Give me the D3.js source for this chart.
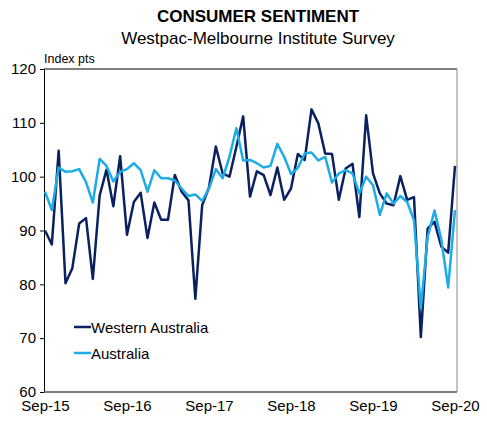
<!DOCTYPE html>
<html>
<head>
<meta charset="utf-8">
<script src="https://cdn.jsdelivr.net/npm/d3@7"></script>
<style>
  body { margin: 0; background: #fff; font-family: "Liberation Sans", Arial, sans-serif; }
</style>
</head>
<body>
<svg id="chart" width="487" height="426"></svg>
<script>
// monthly, Sep-15 .. Sep-20
const westernAustralia = [90, 87.4, 104.8, 80.2, 83, 91.3, 92.3, 81, 96.5, 101.3, 94.5, 103.8, 89.2, 95.3, 97, 88.6, 95.2, 92, 92,
  100.3, 97.2, 95.6, 77.3, 94.7, 98, 105.6, 100.6, 100, 105.5, 111.2, 96.3, 101, 100.3, 96.6, 101.7, 95.7, 97.8, 104.2, 103.1,
  112.5, 109.9, 104.3, 104.2, 95.7, 101.5, 102.4, 92.5, 111.4, 100.6, 96.9, 95, 94.7, 100.1, 95.7, 96.2, 70.2, 90.4, 91.6, 87, 85.9, 102];
const australia = [97.2, 93.8, 101.7, 100.9, 101, 101.4, 99, 95.2, 103.3, 102, 99.1, 100.9, 101.4, 102.5, 101.2, 97.2, 101.2, 99.7, 99.7,
  99.3, 97.8, 96.4, 96.7, 95.5, 97.8, 101.4, 99.7, 103.7, 109, 103, 103.1, 102.5, 101.7, 102, 106.1, 103.7, 100.5, 101.6, 104.3,
  104.5, 103, 103.7, 98.9, 100.6, 101.2, 100.6, 96.9, 100, 98.4, 92.9, 96.9, 95, 96.4, 95.3, 91.9, 75.5, 88.8, 93.7, 88.3, 79.4, 93.8];
const xTickIdx = [0, 12, 24, 36, 48, 60];
const xTickLabels = ['Sep-15', 'Sep-16', 'Sep-17', 'Sep-18', 'Sep-19', 'Sep-20'];
const yTicks = [60, 70, 80, 90, 100, 110, 120];
const seriesNames = ['Western Australia', 'Australia'];
const colors = ['#0a2160', '#1cace6'];

const svg = d3.select('#chart');
const plotLeft = 44, plotRight = 457, plotTop = 69, plotBottom = 392;

const x = d3.scaleLinear().domain([0, 60]).range([plotLeft + 1, plotRight - 2]);
const y = d3.scaleLinear().domain([60, 120]).range([plotBottom, plotTop]);

svg.append('text').attr('x', 258).attr('y', 22).attr('text-anchor', 'middle')
  .attr('font-size', 17).attr('font-weight', 'bold').text('CONSUMER SENTIMENT');
svg.append('text').attr('x', 258).attr('y', 44).attr('text-anchor', 'middle')
  .attr('font-size', 17).text('Westpac-Melbourne Institute Survey');
svg.append('text').attr('x', 44).attr('y', 63).attr('font-size', 12.5).text('Index pts');

// frame
svg.append('line').attr('x1', plotLeft).attr('x2', plotRight).attr('y1', plotTop).attr('y2', plotTop).attr('stroke', '#000');
svg.append('line').attr('x1', plotRight).attr('x2', plotRight).attr('y1', plotTop).attr('y2', plotBottom).attr('stroke', '#888');

const yAxis = svg.append('g').attr('transform', `translate(${plotLeft},0)`)
  .call(d3.axisLeft(y).tickValues(yTicks).tickSize(4).tickSizeOuter(0));
yAxis.selectAll('text').attr('font-size', 15).attr('fill', '#000').attr('font-family', '"Liberation Sans", Arial').attr('dx', '-1');
yAxis.selectAll('path,line').attr('stroke', '#000');

const xAxis = svg.append('g').attr('transform', `translate(0,${plotBottom})`)
  .call(d3.axisBottom(x).tickValues(xTickIdx).tickFormat((d, i) => xTickLabels[i]).tickSize(0).tickSizeOuter(0));
xAxis.select('path').attr('d', `M${plotLeft},0H${plotRight}`).attr('stroke', '#555').attr('stroke-width', 1.5);
xAxis.selectAll('text').attr('font-size', 15).attr('fill', '#000').attr('font-family', '"Liberation Sans", Arial').attr('dy', '1.05em');

const line = d3.line().x((d, i) => x(i)).y(d => y(d));
[westernAustralia, australia].forEach((s, k) => {
  svg.append('path').datum(s).attr('d', line).attr('fill', 'none')
    .attr('stroke', colors[k]).attr('stroke-width', 2.5).attr('stroke-linejoin', 'round');
});

seriesNames.forEach((n, k) => {
  const ly = 327 + k * 26;
  svg.append('line').attr('x1', 74).attr('x2', 91).attr('y1', ly).attr('y2', ly)
    .attr('stroke', colors[k]).attr('stroke-width', 2.5);
  svg.append('text').attr('x', 91).attr('y', ly + 5.5).attr('font-size', 15).text(n);
});
</script>
</body>
</html>
